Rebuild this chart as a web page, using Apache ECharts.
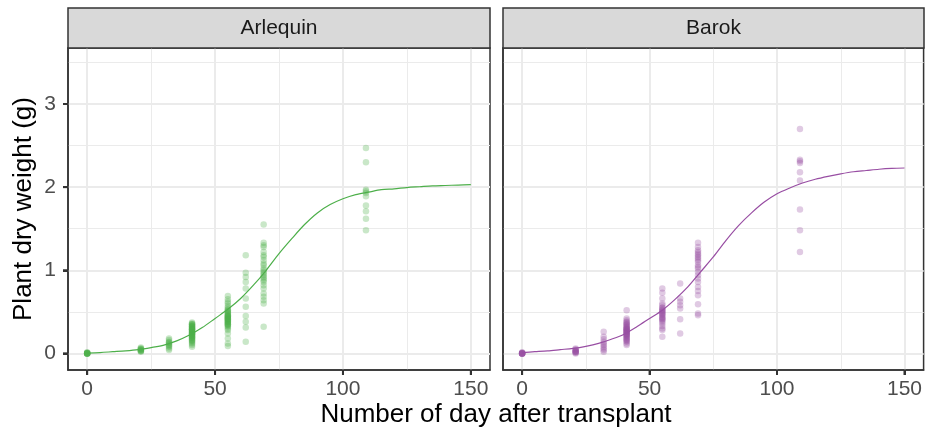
<!DOCTYPE html>
<html><head><meta charset="utf-8">
<script src="https://cdn.jsdelivr.net/npm/echarts@6/dist/echarts.min.js"></script>
<style>html,body{margin:0;padding:0;background:#fff}#c{width:925px;height:432px}</style>
</head><body><div id="c"></div><script>
// ---- data ----
const panels = ['Arlequin', 'Barok'];
const sampleDays = [0, 21, 32, 41, 55, 62, 69, 109];
const arlequinWeights = [
  [0, 0, 0, 0, 0.005, 0, 0.01, 0, 0.01, 0],
  [0.02, 0.03, 0.03, 0.04, 0.045, 0.05, 0.055, 0.06, 0.07, 0.035],
  [0.04, 0.06, 0.08, 0.09, 0.10, 0.11, 0.125, 0.14, 0.16, 0.18, 0.13],
  [0.08, 0.10, 0.12, 0.13, 0.15, 0.16, 0.17, 0.18, 0.19, 0.20, 0.21, 0.22, 0.23, 0.24, 0.25, 0.26, 0.27, 0.28, 0.29, 0.30, 0.31, 0.32, 0.33, 0.34, 0.35, 0.36, 0.37, 0.21, 0.24, 0.27, 0.30, 0.33, 0.19, 0.25, 0.29, 0.35, 0.23, 0.28, 0.15, 0.32],
  [0.69, 0.65, 0.62, 0.60, 0.57, 0.55, 0.53, 0.51, 0.50, 0.48, 0.47, 0.46, 0.45, 0.44, 0.43, 0.42, 0.41, 0.40, 0.39, 0.38, 0.37, 0.36, 0.35, 0.34, 0.33, 0.32, 0.30, 0.28, 0.24, 0.18, 0.09, 0.52, 0.49, 0.45, 0.41, 0.38, 0.35, 0.44, 0.42, 0.12],
  [1.18, 0.97, 0.92, 0.86, 0.78, 0.66, 0.56, 0.45, 0.38, 0.31, 0.14],
  [1.55, 1.33, 1.30, 1.28, 1.22, 1.18, 1.16, 1.12, 1.08, 1.06, 1.02, 1.00, 0.98, 0.96, 0.94, 0.92, 0.90, 0.88, 0.86, 0.82, 0.78, 0.72, 0.68, 0.64, 0.60, 0.32],
  [2.47, 2.30, 1.97, 1.95, 1.93, 1.89, 1.78, 1.71, 1.62, 1.48]
];
const barokWeights = [
  [0, 0, 0, 0, 0.01, 0, 0, 0.01, 0, 0],
  [0.00, 0.01, 0.02, 0.02, 0.03, 0.04, 0.05, 0.06, 0.03, 0.01],
  [0.26, 0.20, 0.14, 0.10, 0.06, 0.02, 0.04, 0.12, 0.08, 0.17],
  [0.52, 0.42, 0.40, 0.38, 0.36, 0.35, 0.33, 0.32, 0.30, 0.29, 0.28, 0.27, 0.26, 0.25, 0.24, 0.23, 0.22, 0.21, 0.20, 0.19, 0.18, 0.17, 0.15, 0.14, 0.12, 0.10, 0.30, 0.26, 0.22, 0.34, 0.31, 0.27, 0.24, 0.37, 0.29, 0.16],
  [0.78, 0.73, 0.66, 0.60, 0.58, 0.55, 0.53, 0.51, 0.50, 0.48, 0.46, 0.44, 0.42, 0.40, 0.38, 0.36, 0.33, 0.30, 0.28, 0.20, 0.52, 0.47, 0.43, 0.55, 0.49, 0.41],
  [0.84, 0.66, 0.62, 0.58, 0.54, 0.41, 0.24],
  [1.33, 1.28, 1.24, 1.22, 1.20, 1.18, 1.16, 1.14, 1.12, 1.10, 1.06, 1.04, 1.02, 0.98, 0.94, 0.90, 0.86, 0.80, 0.75, 0.70, 0.59, 0.48, 0.46],
  [2.70, 2.33, 2.31, 2.29, 2.18, 2.08, 1.73, 1.48, 1.22]
];
const curveDays = [0, 5, 10, 15, 20, 25, 30, 35, 40, 45, 50, 55, 60, 65, 70, 75, 80, 85, 90, 95, 100, 105, 110, 115, 120, 125, 130, 135, 140, 145, 150];
const arlequinCurve = [0.004, 0.01, 0.02, 0.03, 0.045, 0.07, 0.10, 0.15, 0.22, 0.31, 0.42, 0.53, 0.66, 0.82, 1.00, 1.20, 1.38, 1.55, 1.69, 1.79, 1.86, 1.91, 1.94, 1.97, 1.98, 1.995, 2.005, 2.015, 2.02, 2.025, 2.03];
const barokCurve = [0.01, 0.02, 0.03, 0.045, 0.06, 0.085, 0.12, 0.17, 0.23, 0.32, 0.42, 0.52, 0.65, 0.80, 0.98, 1.16, 1.36, 1.54, 1.69, 1.82, 1.92, 1.99, 2.05, 2.095, 2.13, 2.16, 2.185, 2.20, 2.215, 2.225, 2.23];
const xTicks = [0, 50, 100, 150];
const xMinorTicks = [25, 75, 125];
const yTicks = [0, 1, 2, 3];
const yMinorTicks = [0.5, 1.5, 2.5, 3.5];
const xTitle = 'Number of day after transplant';
const yTitle = 'Plant dry weight (g)';

// ---- chart ----
const FONT = '"Liberation Sans", Arial, Helvetica, sans-serif';
const colors = ['#4DAF4A', '#984EA3'];
const weightSets = [arlequinWeights, barokWeights];
const curveSets = [arlequinCurve, barokCurve];
const X_MIN = -7.5, X_MAX = 157.5, Y_MIN = -0.2, Y_MAX = 3.674;
const TICK_LEN = 5;
const gridRects = [
  { left: 68, top: 48, width: 422, height: 322 },
  { left: 503, top: 48, width: 421, height: 322 }
];

function pointsOf(ws) {
  const out = [];
  ws.forEach((grp, i) => grp.forEach(w => out.push([sampleDays[i], w])));
  return out;
}

const grids = gridRects.map(r => Object.assign({
  show: true, borderColor: '#333333', borderWidth: 1.5
}, r));

const xAxes = panels.map((p, i) => ({
  type: 'value', gridIndex: i, min: X_MIN, max: X_MAX,
  splitLine: { show: false },
  axisLine: { show: true, onZero: false, lineStyle: { color: '#333333', width: 1.5 } },
  axisTick: { show: true, customValues: xTicks, length: TICK_LEN, lineStyle: { color: '#333333', width: 2 } },
  axisLabel: { show: true, customValues: xTicks, margin: 9, color: '#4d4d4d', fontSize: 21, fontFamily: FONT }
}));
const yAxes = panels.map((p, i) => ({
  type: 'value', gridIndex: i, min: Y_MIN, max: Y_MAX,
  splitLine: { show: false },
  axisLine: { show: true, onZero: false, lineStyle: { color: '#333333', width: 1.5 } },
  axisTick: { show: i === 0, customValues: yTicks, length: TICK_LEN, lineStyle: { color: '#333333', width: 2 } },
  axisLabel: { show: i === 0, customValues: yTicks, margin: 12, color: '#4d4d4d', fontSize: 21, fontFamily: FONT }
}));

function gridLines() {
  const d = [];
  xMinorTicks.forEach(v => d.push({ xAxis: v, lineStyle: { width: 1, color: '#ebebeb' } }));
  yMinorTicks.forEach(v => d.push({ yAxis: v, lineStyle: { width: 1, color: '#ebebeb' } }));
  xTicks.forEach(v => d.push({ xAxis: v, lineStyle: { width: 2, color: '#ebebeb' } }));
  yTicks.forEach(v => d.push({ yAxis: v, lineStyle: { width: 2, color: '#ebebeb' } }));
  return d;
}

const tickStroke = { stroke: '#333333', lineWidth: 2 };
const series = [];
panels.forEach((p, i) => {
  series.push({
    type: 'scatter', xAxisIndex: i, yAxisIndex: i, z: 2,
    data: pointsOf(weightSets[i]), symbolSize: 6.5,
    itemStyle: { color: colors[i], opacity: 0.3 },
    animation: false, silent: true,
    markLine: {
      z: 0, silent: true, symbol: ['none', 'none'], animation: false,
      label: { show: false }, lineStyle: { type: 'solid' },
      emphasis: { disabled: true },
      data: gridLines()
    }
  });
  series.push({
    type: 'line', xAxisIndex: i, yAxisIndex: i, z: 3,
    data: curveDays.map((d, k) => [d, curveSets[i][k]]),
    smooth: 0.3, showSymbol: false, symbol: 'none',
    lineStyle: { color: colors[i], width: 1.2 }, animation: false, silent: true
  });
  // axis ticks outside the panel, placed through the axes' scales
  series.push({
    type: 'custom', xAxisIndex: i, yAxisIndex: i, z: 6, clip: false, silent: true, animation: false,
    data: xTicks.map(v => [v, Y_MIN]),
    renderItem: (params, api) => {
      const pt = api.coord([api.value(0), api.value(1)]);
      return { type: 'line', shape: { x1: pt[0], y1: pt[1], x2: pt[0], y2: pt[1] + TICK_LEN }, style: tickStroke };
    }
  });
  if (i === 0) {
    series.push({
      type: 'custom', xAxisIndex: i, yAxisIndex: i, z: 6, clip: false, silent: true, animation: false,
      data: yTicks.map(v => [X_MIN, v]),
      renderItem: (params, api) => {
        const pt = api.coord([api.value(0), api.value(1)]);
        return { type: 'line', shape: { x1: pt[0] - TICK_LEN, y1: pt[1], x2: pt[0], y2: pt[1] }, style: tickStroke };
      }
    });
  }
});

const graphic = [];
panels.forEach((p, i) => {
  const r = gridRects[i];
  graphic.push({
    type: 'rect', shape: { x: r.left, y: 8, width: r.width, height: 40 },
    style: { fill: '#d9d9d9', stroke: '#333333', lineWidth: 1.5 }, z: 10
  });
  graphic.push({
    type: 'text', x: r.left + r.width / 2, y: 28, z: 11,
    style: { text: p, fill: '#1a1a1a', font: '21px ' + FONT, textAlign: 'center', textVerticalAlign: 'middle' }
  });
});
graphic.push({
  type: 'text', x: 496, y: 415, z: 11,
  style: { text: xTitle, fill: '#000000', font: '26px ' + FONT, textAlign: 'center', textVerticalAlign: 'middle' }
});
graphic.push({
  type: 'text', x: 24, y: 209, rotation: Math.PI / 2, z: 11,
  style: { text: yTitle, fill: '#000000', font: '26px ' + FONT, textAlign: 'center', textVerticalAlign: 'middle' }
});

const chart = echarts.init(document.getElementById('c'), null, { renderer: 'canvas' });
chart.setOption({
  backgroundColor: '#ffffff',
  animation: false,
  grid: grids, xAxis: xAxes, yAxis: yAxes,
  series: series, graphic: graphic
});
</script></body></html>
